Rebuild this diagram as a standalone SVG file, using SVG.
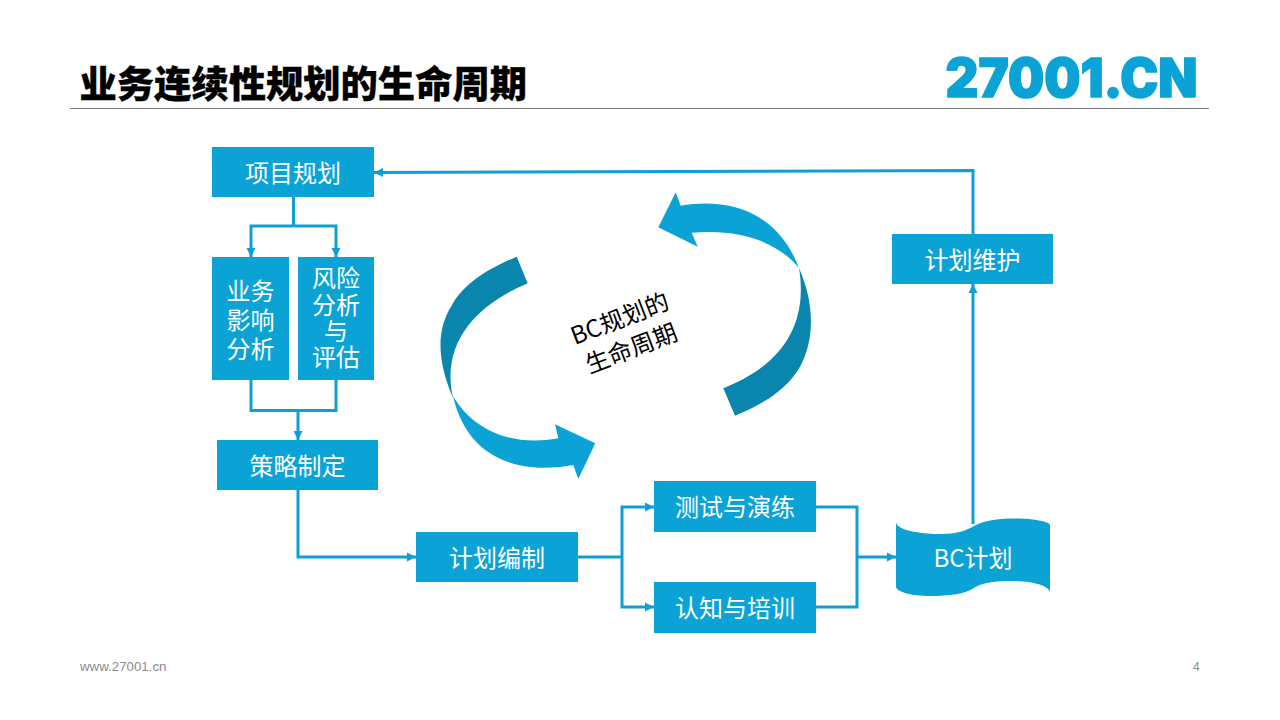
<svg xmlns="http://www.w3.org/2000/svg" width="1280" height="720" viewBox="0 0 1280 720">
<style>
text{font-family:"Noto Sans CJK SC","Noto Sans",sans-serif}
.box{fill:#0ba3d6}
.lbl{fill:#fff;font-size:24px;text-anchor:middle}
.con{fill:none;stroke:#0f9fd2;stroke-width:3}
.light{fill:#0ba3d6}
.dark{fill:#0a86ae}
</style>
<defs>
<marker id="ah" markerUnits="userSpaceOnUse" markerWidth="10" markerHeight="10" refX="9" refY="5" orient="auto"><path d="M0,0.500L9,5L0,9.500Z" fill="#0f9fd2"/></marker>
</defs>
<rect width="1280" height="720" fill="#fff"/>
<g id="title">
<text x="79.500" y="97.500" font-size="37.300" font-weight="900" fill="#000" stroke="#000" stroke-width="0.300">业务连续性规划的生命周期</text>
<line x1="70" y1="108.500" x2="1209" y2="108.500" stroke="#7f7f7f" stroke-width="1"/>
</g>
<g id="logo"><text x="945.500" y="96.500" font-size="53" font-weight="900" fill="#0ba3d6" stroke="#0ba3d6" stroke-width="1.500" textLength="252" lengthAdjust="spacingAndGlyphs" style="font-family:Inter,'Liberation Sans',sans-serif">27001.CN</text></g>
<g id="connectors">
<path class="con" d="M293.500,197V226"/>
<path class="con" d="M293.500,226H336V257" marker-end="url(#ah)"/>
<path class="con" d="M293.500,226H251V257" marker-end="url(#ah)"/>
<path class="con" d="M251,380V410.500H336V380"/>
<path class="con" d="M298,410.500V440" marker-end="url(#ah)"/>
<path class="con" d="M298,490V557H416" marker-end="url(#ah)"/>
<path class="con" d="M578,557H622"/>
<path class="con" d="M622,557V507H654" marker-end="url(#ah)"/>
<path class="con" d="M622,557V607H654" marker-end="url(#ah)"/>
<path class="con" d="M816,507H857V607H816"/>
<path class="con" d="M857,557H896" marker-end="url(#ah)"/>
<path class="con" d="M973,524V284" marker-end="url(#ah)"/>
<path class="con" d="M973,234V170.500L374,172.500" marker-end="url(#ah)"/>
</g>
<g id="n-plan"><rect class="box" x="212" y="147" width="162" height="50"/><text class="lbl" x="293" y="182">项目规划</text></g>
<g id="n-bia"><rect class="box" x="212" y="257" width="77" height="123"/><text class="lbl"><tspan x="250.500" y="300">业务</tspan><tspan x="250.500" y="329">影响</tspan><tspan x="250.500" y="358">分析</tspan></text></g>
<g id="n-risk"><rect class="box" x="298" y="257" width="76" height="123"/><text class="lbl"><tspan x="336" y="287">风险</tspan><tspan x="336" y="314">分析</tspan><tspan x="336" y="340">与</tspan><tspan x="336" y="366">评估</tspan></text></g>
<g id="n-strategy"><rect class="box" x="217" y="440" width="161" height="50"/><text class="lbl" x="297.500" y="475">策略制定</text></g>
<g id="n-write"><rect class="box" x="416" y="532" width="162" height="50"/><text class="lbl" x="497" y="567">计划编制</text></g>
<g id="n-test"><rect class="box" x="654" y="481" width="162" height="51"/><text class="lbl" x="735" y="516">测试与演练</text></g>
<g id="n-aware"><rect class="box" x="654" y="582" width="162" height="51"/><text class="lbl" x="735" y="617">认知与培训</text></g>
<g id="n-maintain"><rect class="box" x="892" y="234" width="161" height="50"/><text class="lbl" x="972.500" y="269">计划维护</text></g>
<g id="n-bcplan"><path class="box" d="M896,522.500C897,530 920,534 938,534C958,534 965,531 974,526C985,520 1000,518.500 1016,518.500C1035,518.500 1050,522 1050,525V592C1048,585 1030,581 1010,581C990,581 980,584 974,588C965,594 950,596 930,596C912,596 897,592 896,587Z"/><text class="lbl" x="973" y="567">BC计划</text></g>
<g id="cycle">
<path class="light" d="M675.700,192.300L680.700,205.700C720,199 775,205 799,268C780,245 745,228 691.700,232.700L697.700,246.700L658.300,227.300Z"/>
<path class="dark" d="M799,268C813,300 816,335 801,365C786,392 760,405 735,415.700L723.300,388.300C770,370 810,335 799,268Z"/>
<path class="dark" d="M516.700,256.700L527.700,283.300C480,303 440,340 453,398C437,360 436,330 452,305C465,282 490,268 516.700,256.700Z"/>
<path class="light" d="M453,396C470,425 505,448 558.300,438.300L555,424.300L595.300,443.300L578.300,479L573.300,465C535,472 470,470 453,396Z"/>
<g transform="rotate(-21 626 335)" font-size="24" text-anchor="middle" fill="#000"><text x="626" y="326">BC规划的</text><text x="626" y="358">生命周期</text></g>
</g>
<g id="footer" fill="#8c8c8c" font-size="13.300"><text x="80" y="671" style="font-family:'Liberation Sans',sans-serif">www.27001.cn</text><text x="1193" y="671" font-size="12" style="font-family:'Liberation Sans',sans-serif">4</text></g>
</svg>
